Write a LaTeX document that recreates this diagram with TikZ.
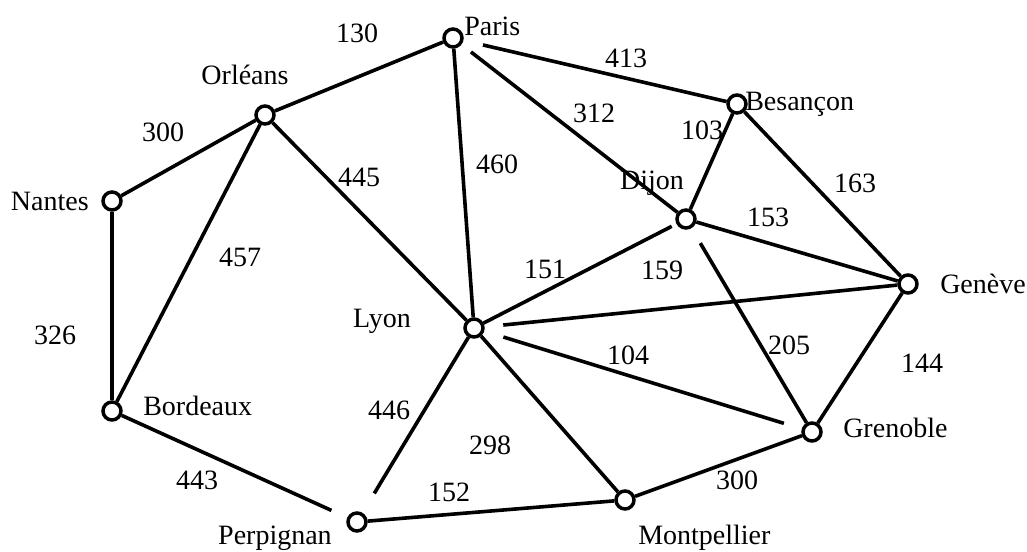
\documentclass[tikz,border=0pt]{standalone}
\usepackage{fontspec}
\setmainfont{Liberation Serif}
\begin{document}
\begin{tikzpicture}[x=0.75pt,y=-0.75pt,
  city/.style={circle,draw,line width=2.6pt,minimum size=13.5pt,inner sep=0pt,fill=white},
  road/.style={line width=2.7pt},
  lbl/.style={font=\fontsize{21}{25}\selectfont,inner sep=0pt},
  wt/.style={font=\fontsize{21}{25}\selectfont,inner sep=0pt}]
\useasboundingbox (0,0) rectangle (1027,552);
% cities
\node[city] (Pa) at (453,38) {};
\node[city] (Or) at (265,115) {};
\node[city] (Be) at (737,104) {};
\node[city] (Na) at (112,201) {};
\node[city] (Di) at (686,219) {};
\node[city] (Ge) at (908,284) {};
\node[city] (Ly) at (474,328) {};
\node[city] (Bo) at (112,411) {};
\node[city] (Gr) at (812,432) {};
\node[city] (Pe) at (357,522) {};
\node[city] (Mo) at (625,500) {};
% labels
\node[lbl,anchor=west] (lPa) at (464,26) {Paris};
\node[lbl] (lOr) at (245,75) {Orléans};
\node[lbl,anchor=west] (lBe) at (745,104) {Besançon};
\node[lbl,anchor=east] (lNa) at (89,201) {Nantes};
\node[lbl] (lDi) at (652,183) {Dijon};
\node[lbl,anchor=west] (lGe) at (940,284) {Genève};
\node[lbl] (lLy) at (382,321) {Lyon};
\node[lbl,anchor=west] (lBo) at (143,406) {Bordeaux};
\node[lbl,anchor=west] (lGr) at (843,428) {Grenoble};
\node[lbl,anchor=east] (lPe) at (332,538) {Perpignan};
\node[lbl,anchor=west] (lMo) at (638,538) {Montpellier};
% roads
\draw[road] (Pa) -- (Or);
\draw[road,shorten <=15pt] (Pa) -- (Be);
\draw[road,shorten <=9pt] (Pa) -- (Di);
\draw[road] (Pa) -- (Ly);
\draw[road] (Or) -- (Na);
\draw[road] (Or) -- (Ly);
\draw[road] (Or) -- (Bo);
\draw[road] (Na) -- (Bo);
\draw[road,shorten >=13pt] (Bo) -- (Pe);
\draw[road] (Be) -- (Di);
\draw[road] (Be) -- (Ge);
\draw[road] (Di) -- (Ge);
\draw[road,shorten >=4pt] (Ly) -- (Di);
\draw[road,shorten <=13pt] (Di) -- (Gr);
\draw[road,shorten <=14pt] (Ly) -- (Ge);
\draw[road,shorten <=15pt,shorten >=14pt] (Ly) -- (Gr);
\draw[road] (Ge) -- (Gr);
\draw[road,shorten >=17pt] (Ly) -- (Pe);
\draw[road] (Ly) -- (Mo);
\draw[road] (Pe) -- (Mo);
\draw[road] (Mo) -- (Gr);
% weights
\node[wt] (w1) at (357,33) {130};
\node[wt] (w2) at (626,58) {413};
\node[wt] (w3) at (594,113) {312};
\node[wt] (w4) at (497,164) {460};
\node[wt] (w5) at (163,132) {300};
\node[wt] (w6) at (359,177) {445};
\node[wt] (w7) at (240,257) {457};
\node[wt] (w8) at (55,335) {326};
\node[wt] (w9) at (197,480) {443};
\node[wt] (w10) at (702,130) {103};
\node[wt] (w11) at (855,183) {163};
\node[wt] (w12) at (768,217) {153};
\node[wt] (w13) at (545,269) {151};
\node[wt] (w14) at (662,270) {159};
\node[wt] (w15) at (789,345) {205};
\node[wt] (w16) at (628,355) {104};
\node[wt] (w17) at (922,363) {144};
\node[wt] (w18) at (389,410) {446};
\node[wt] (w19) at (490,445) {298};
\node[wt] (w20) at (449,492) {152};
\node[wt] (w21) at (737,480) {300};
\end{tikzpicture}
\end{document}
